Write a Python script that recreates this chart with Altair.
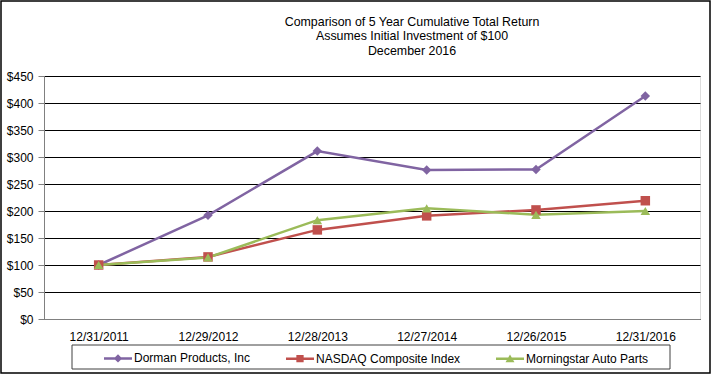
import altair as alt
import pandas as pd

dates = ["12/31/2011", "12/29/2012", "12/28/2013", "12/27/2014", "12/26/2015", "12/31/2016"]
series = ["Dorman Products, Inc", "NASDAQ Composite Index", "Morningstar Auto Parts"]
dorman = [100, 192, 311, 276, 277, 413]
nasdaq = [100, 115, 165, 191, 202, 219]
morningstar = [100, 114, 183, 205, 193, 200]
colors = ["#8064A2", "#C0504D", "#9BBB59"]
y_ticks = [0, 50, 100, 150, 200, 250, 300, 350, 400, 450]
title_lines = ["Comparison of 5 Year Cumulative Total Return",
               "Assumes Initial Investment of $100",
               "December 2016"]

rows = []
for name, vals in zip(series, [dorman, nasdaq, morningstar]):
    for d, v in zip(dates, vals):
        rows.append({"date": d, "series": name, "entry": name, "value": v})
df = pd.DataFrame(rows)

FONT = "Liberation Sans"

# legend symbols: a line with the series marker in its middle (filled paths)
bar = "M-1,-0.09H1V0.09H-1Z"
legend_paths = [
    bar + "M0,-0.3L0.3,0L0,0.3L-0.3,0Z",
    bar + "M-0.26,-0.26H0.26V0.26H-0.26Z",
    bar + "M0,-0.3L0.32,0.24H-0.32Z",
]

x = alt.X("date:N", sort=dates, title=None,
          scale=alt.Scale(type="point", padding=0.5),
          axis=alt.Axis(labelAngle=0, labelFont=FONT, labelFontSize=12, labelColor="#000000",
                        labelPadding=12, ticks=False, domainColor="#808080", grid=False))
y = alt.Y("value:Q", title=None,
          scale=alt.Scale(domain=[0, 450], nice=False),
          axis=alt.Axis(values=y_ticks, format="$,.0f", labelFont=FONT, labelFontSize=12,
                        labelColor="#000000", labelPadding=5, tickSize=6, tickColor="#808080",
                        domainColor="#808080", gridColor="#000000", gridWidth=1))

color = alt.Color("series:N", scale=alt.Scale(domain=series, range=colors), legend=None)

lines = alt.Chart(df).mark_line(strokeWidth=2.5).encode(
    x=x, y=y, color=color, detail="series:N")

points = alt.Chart(df).mark_point(filled=True, size=90, opacity=1).encode(
    x=x, y=y, color=color,
    shape=alt.Shape("series:N", scale=alt.Scale(domain=series, range=["diamond", "square", "triangle-up"]),
                    legend=None))

legend = alt.Legend(
    title=None, orient="none", legendX=59, legendY=267, direction="horizontal",
    columns=3, columnPadding=32, symbolSize=784, symbolOpacity=1, labelFont=FONT,
    labelFontSize=12, labelColor="#000000", labelOffset=1, padding=0)

legend_layer = alt.Chart(df).mark_point(filled=True, opacity=0, size=1).encode(
    x=x, y=y,
    color=alt.Color("entry:N", scale=alt.Scale(domain=series, range=colors), legend=legend),
    shape=alt.Shape("entry:N", scale=alt.Scale(domain=series, range=legend_paths), legend=legend),
)

one = alt.Data(values=[{"k": 1}])
legend_box = alt.Chart(one).mark_rect(fill=None, stroke="#404040", strokeWidth=1).encode(
    x=alt.value(28), x2=alt.value(626), y=alt.value(269), y2=alt.value(293))
outer_box = alt.Chart(one).mark_rect(fill=None, stroke="#000000", strokeWidth=1.5).encode(
    x=alt.value(-43), x2=alt.value(666), y=alt.value(-75), y2=alt.value(297))

chart = alt.layer(lines, points, legend_layer, legend_box, outer_box).resolve_scale(
    color="independent", shape="independent"
).properties(
    width=656, height=243,
    title=alt.TitleParams(text=title_lines, font=FONT, fontSize=12.4, fontWeight="normal",
                          color="#000000", anchor="middle", dx=40, dy=57, offset=0,
                          lineHeight=14.5),
    autosize=alt.AutoSizeParams(type="none"),
    padding={"left": 44, "top": 76, "right": 12, "bottom": 57},
).configure_view(stroke="#808080", strokeWidth=1).configure(background="#ffffff")

chart.save("out.html", embed_options={"renderer": "svg", "actions": False})
